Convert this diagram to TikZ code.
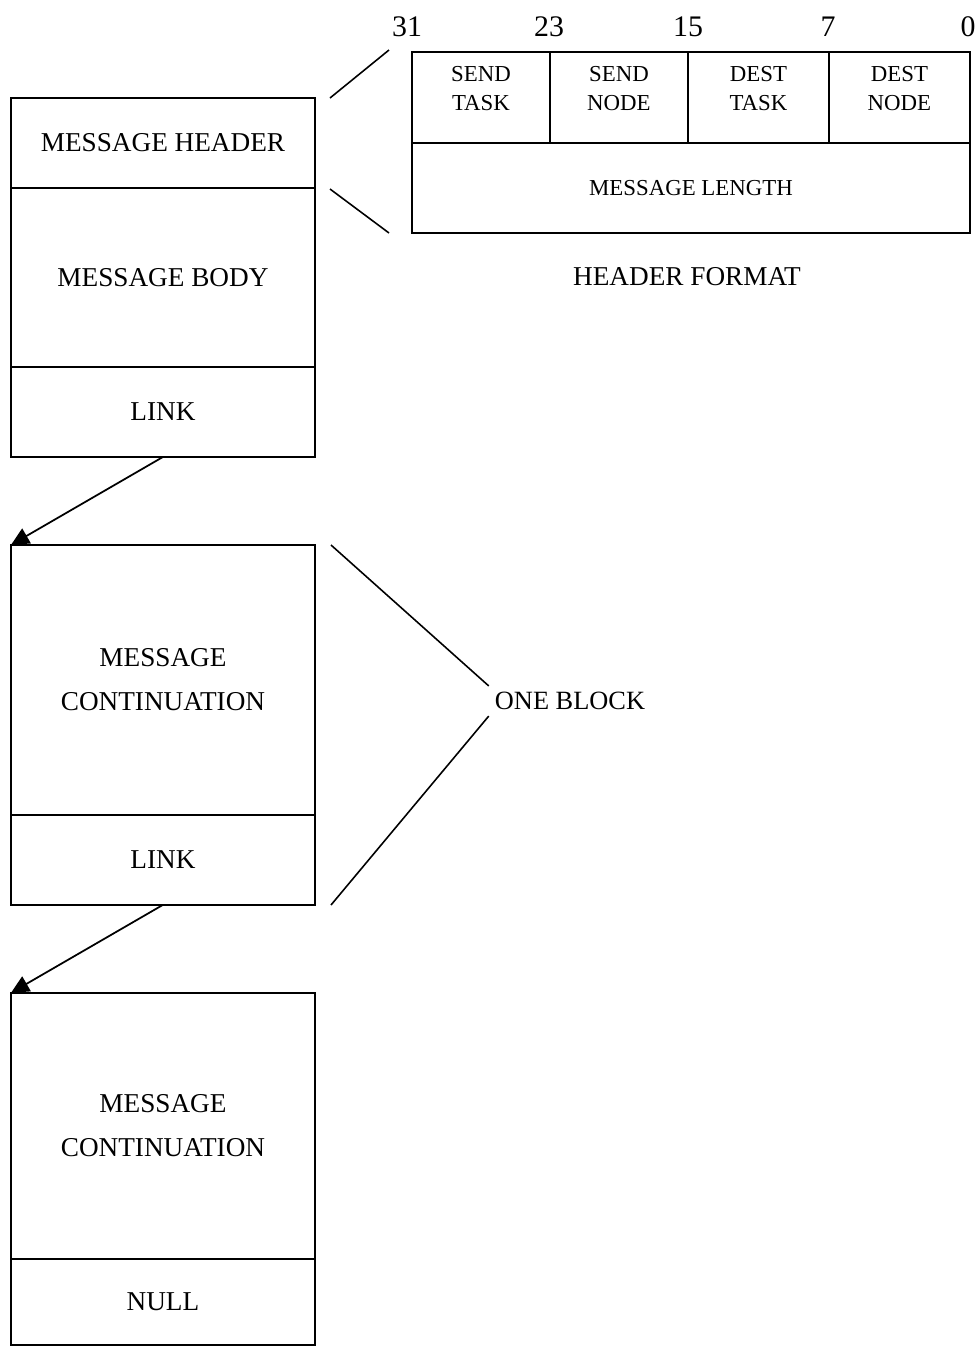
\documentclass[tikz,border=0pt]{standalone}
\usepackage{fontspec}
\setmainfont{Liberation Serif}
\usetikzlibrary{arrows.meta, positioning}

\begin{document}
\begin{tikzpicture}[x=0.02cm, y=-0.02cm,
    box/.style={draw, line width=1pt, minimum width=6.08cm, inner sep=0pt, outer sep=0pt,
        align=center, font=\fontsize{15.5}{25}\selectfont},
    fld/.style={draw, line width=1pt, minimum height=1.82cm, inner sep=0pt, outer sep=0pt,
        align=center, text depth=0.36cm, font=\fontsize{13}{17}\selectfont},
    bitno/.style={font=\fontsize{17}{17}\selectfont},
    caption/.style={font=\fontsize{15.5}{18}\selectfont},
    guide/.style={line width=0.9pt},
    link/.style={line width=1pt, -{Triangle[length=0.36cm, width=0.34cm]}}]
                \useasboundingbox (0,0) rectangle (980,1347);

                % First block
                \node[box, minimum height=1.8cm, anchor=north west] (msghdr) at (11,98) {MESSAGE HEADER};
                \node[box, minimum height=3.58cm, below=0pt of msghdr] (msgbody) {MESSAGE BODY};
                \node[box, minimum height=1.8cm, below=0pt of msgbody] (link1) {LINK};

                % Second block
                \node[box, minimum height=5.4cm, below=1.76cm of link1] (cont1) {MESSAGE\\CONTINUATION};
                \node[box, minimum height=1.8cm, below=0pt of cont1] (link2) {LINK};

                % Last block
                \node[box, minimum height=5.32cm, below=1.76cm of link2] (cont2) {MESSAGE\\CONTINUATION};
                \node[box, minimum height=1.72cm, below=0pt of cont2] (nullfld) {NULL};

                % Links
                \draw[link] (link1.south) -- (cont1.north west);
                \draw[link] (link2.south) -- (cont2.north west);

                % Header format
                \node[fld, minimum width=2.76cm, anchor=north west] (sendtask) at (412,52) {SEND\\TASK};
                \node[fld, minimum width=2.76cm, right=0pt of sendtask] (sendnode) {SEND\\NODE};
                \node[fld, minimum width=2.82cm, right=0pt of sendnode] (desttask) {DEST\\TASK};
                \node[fld, minimum width=2.82cm, right=0pt of desttask] (destnode) {DEST\\NODE};
                \node[fld, text depth=0pt, minimum width=11.16cm, minimum height=1.8cm, anchor=north west]
                    (msglen) at (sendtask.south west) {MESSAGE LENGTH};
                \node[caption] (hdrfmt) at (687,277) {HEADER FORMAT};

                % Bit numbers
                \foreach \bit/\xpos in {31/407, 23/549, 15/688, 7/828, 0/968}
                    \node[bitno] (bit\bit) at (\xpos,27) {\bit};

                % Header callout
                \coordinate (hdrtop) at (330,98);
                \coordinate (hdrbot) at (330,189);
                \coordinate (fmttop) at (389,50);
                \coordinate (fmtbot) at (389,233);
                \draw[guide] (hdrtop) -- (fmttop);
                \draw[guide] (hdrbot) -- (fmtbot);

                % One block
                \node[caption, font=\fontsize{15}{18}\selectfont] (oneblk) at (570,701) {ONE BLOCK};
                \coordinate (blktop) at (331,545);
                \coordinate (blkbot) at (331,905);
                \draw[guide] (blktop) -- (oneblk.north west);
                \draw[guide] (blkbot) -- (oneblk.south west);
\end{tikzpicture}
\end{document}
